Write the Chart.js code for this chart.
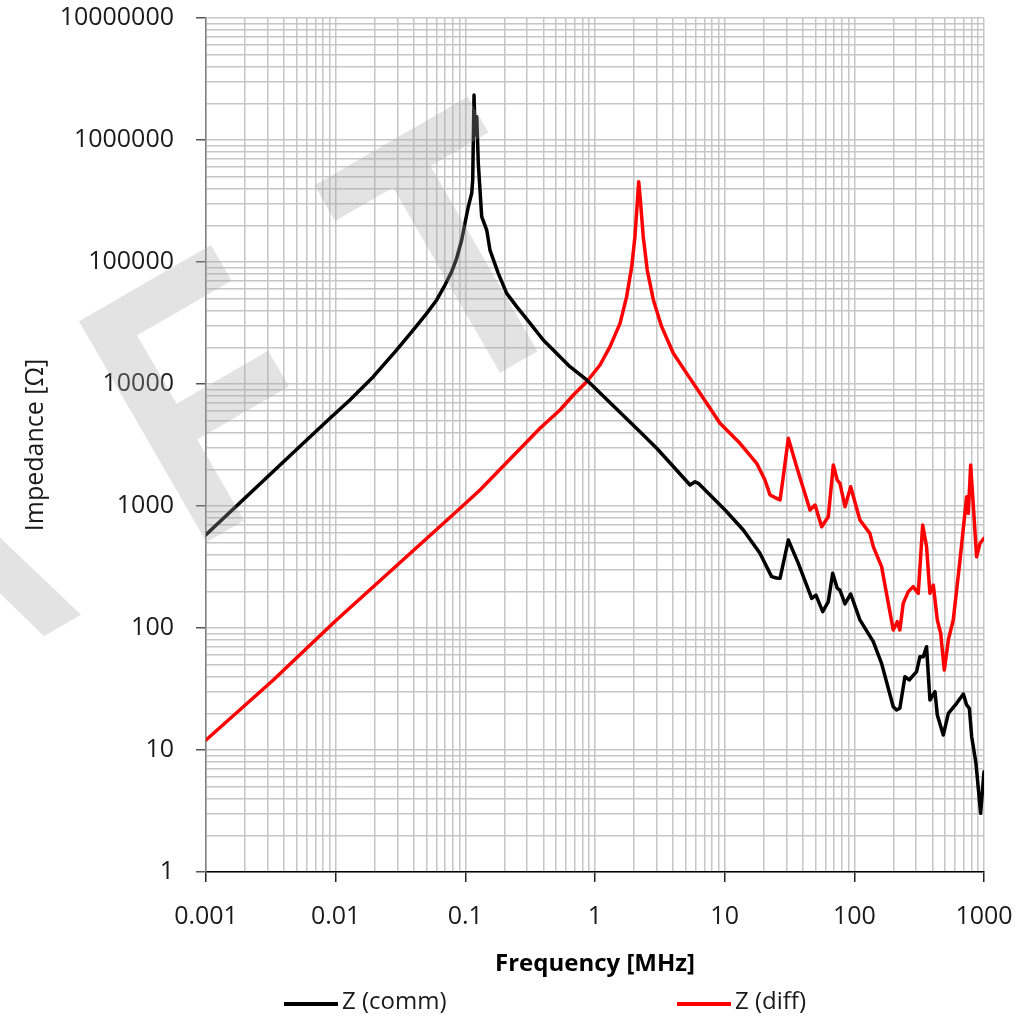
<!DOCTYPE html>
<html>
<head>
<meta charset="utf-8">
<script src="https://cdn.jsdelivr.net/npm/chart.js@4.4.1/dist/chart.umd.min.js"></script>
<style>
html,body{margin:0;padding:0;background:#fff;}
#wrap{width:1034px;height:1019px;}
</style>
</head>
<body>
<div id="wrap"><canvas id="c" width="1034" height="1019"></canvas></div>
<script>
// ---- data ----
const freqComm = [0.001, 0.00531, 0.009036, 0.01288, 0.01950, 0.02958, 0.03972, 0.05035, 0.06012, 0.06966,
  0.07852, 0.08570, 0.09376, 0.09931, 0.1054, 0.1119, 0.1140, 0.1167, 0.1189, 0.1225,
  0.1259, 0.1337, 0.1462, 0.1549, 0.1795, 0.2084, 0.2489, 0.3162, 0.3990, 0.6412,
  0.8630, 2.223, 2.992, 5.408, 5.902, 6.266, 10.07,
  13.93, 18.71, 23.01, 25.12, 26.73, 30.97, 36.98, 46.88, 50.58, 57.02,
  62.95, 68.08, 73.79, 77.45, 84.72, 93.76, 110.4, 140.0, 162.2, 199.5,
  211.8, 224.4, 245.5, 264.9, 302.0, 320.6, 340.4, 360.6, 382.8, 418.8,
  436.5, 485.3, 530.9, 615.2, 693.4, 734.5, 770.9, 803.5, 867.0, 941.9,
  1000];
const zComm = [582, 3090, 5236, 7396, 11480, 19010, 27730, 37930, 48870, 64710,
  83370, 107200, 151400, 207500, 283800, 365600, 469900, 2339000, 1100000, 1552000,
  644200, 235000, 182800, 125300, 80720, 55340, 43050, 31410, 22960, 13870,
  10790, 4064, 2972, 1486, 1581, 1535, 926.8,
  635.3, 409.3, 263.6, 257, 255.3, 526.0, 338.8, 175.0, 186.2, 136.1,
  164.1, 280.5, 211.3, 204.6, 157.4, 190.1, 116.4, 77.27, 51.29, 22.65,
  21.28, 21.98, 39.90, 37.50, 43.85, 58.21, 58.21, 70.15, 25.70, 30.06,
  19.36, 13.27, 20.00, 24.15, 28.77, 23.39, 21.98, 12.85, 7.78, 3.03,
  6.64];

const freqDiff = [0.001, 0.003304, 0.01, 0.1, 0.1297, 0.3767, 0.5370, 0.6808, 0.8630, 1.093,
  1.306, 1.560, 1.754, 1.919, 2.032, 2.118, 2.173, 2.249, 2.355, 2.529,
  2.818, 3.266, 4.018, 5.093, 6.457, 9.204, 13.12, 17.66, 20.46, 22.39,
  25.18, 26.73, 28.31, 30.97, 35.89, 45.50, 49.77, 55.98, 62.95, 68.87,
  73.79, 77.45, 84.72, 93.76, 110.4, 131.8, 140.0, 162.2, 199.5, 214.3,
  224.4, 238.2, 260.6, 284.4, 311.2, 336.5, 360.6, 382.8, 406.4, 436.5,
  463.4, 494.3, 530.9, 579.4, 653.1, 734.5, 756.8, 788.9, 827.9, 877.0,
  931.1, 1000];
const zDiff = [12.08, 37.50, 114.8, 1047, 1352, 4335, 6124, 8128, 10440, 14320,
  20230, 31410, 52000, 91620, 161100, 302700, 455000, 302700, 161100, 85900,
  48870, 29510, 17860, 12220, 8395, 4764, 3266, 2239, 1633, 1230,
  1156, 1119, 1738, 3589, 2099, 926.8, 1019, 676.1, 816.6, 2168,
  1633, 1535, 986.3, 1439, 767.4, 597.0, 464.5, 318.4, 96.38, 112.7,
  96.38, 159.2, 198.6, 218.3, 192.3, 698.2, 464.5, 192.3, 224.9, 116.4,
  90.36, 45.29, 79.80, 116.4, 360.6, 1191, 871.0, 2168, 986.3, 383.7,
  494.3, 543.3];

const seriesNames = ['Z (comm)', 'Z (diff)'];
const xTickLabels = ['0.001', '0.01', '0.1', '1', '10', '100', '1000'];
const yTickLabels = ['1', '10', '100', '1000', '10000', '100000', '1000000', '10000000'];
const xTitle = 'Frequency [MHz]';
const yTitle = 'Impedance [Ω]';
const watermarkText = 'DRAFT';

// ---- helpers ----
function gridTicks(labels) {
  const out = [];
  labels.forEach((lbl, i) => {
    const v = parseFloat(lbl);
    out.push({value: v, major: true, lbl: lbl});
    if (i < labels.length - 1) {
      for (let m = 2; m <= 9; m++) out.push({value: +(m * v).toPrecision(6), major: false, lbl: ''});
    }
  });
  return out;
}

const FONT = '"Open Sans", "DejaVu Sans", sans-serif';

const watermarkPlugin = {
  id: 'watermark',
  afterDraw(chart) {
    const c = chart.ctx;
    c.save();
    c.translate(75, 317);
    c.rotate(-Math.PI / 6);
    const sx = 0.81;
    c.scale(sx, 1);
    c.font = 'bold 371px "Liberation Sans", Arial, sans-serif';
    c.fillStyle = 'rgba(165,165,165,0.31)';
    c.textBaseline = 'alphabetic';
    const capTop = c.measureText('F').actualBoundingBoxAscent;
    const lefts = [-980, -663, -348, 0, 270];
    [...watermarkText].forEach((ch, i) => {
      const m = c.measureText(ch);
      c.fillText(ch, lefts[i] / sx + m.actualBoundingBoxLeft, capTop);
    });
    c.restore();
  }
};

const legendPlugin = {
  id: 'bottomLegend',
  afterDraw(chart) {
    const c = chart.ctx;
    const items = [{x0: 284, x1: 338, tx: 342}, {x0: 677, x1: 731, tx: 735}];
    c.save();
    c.font = '24px ' + FONT;
    c.textBaseline = 'middle';
    c.textAlign = 'left';
    chart.data.datasets.forEach((ds, i) => {
      const it = items[i];
      c.strokeStyle = ds.borderColor;
      c.lineWidth = 4;
      c.beginPath();
      c.moveTo(it.x0, 1004);
      c.lineTo(it.x1, 1004);
      c.stroke();
      c.fillStyle = '#1a1a1a';
      c.fillText(ds.label, it.tx, 1002);
    });
    c.restore();
  }
};

const tickCol = (col) => (ctx) => (ctx.tick && ctx.tick.major) ? col : 'rgba(0,0,0,0)';

new Chart(document.getElementById('c'), {
  type: 'line',
  data: {
    datasets: [
      {label: seriesNames[0], data: freqComm.map((f, i) => ({x: f, y: zComm[i]})),
       borderColor: '#000000', borderWidth: 3.5, pointRadius: 0, tension: 0, fill: false,
       borderJoinStyle: 'round', borderCapStyle: 'round'},
      {label: seriesNames[1], data: freqDiff.map((f, i) => ({x: f, y: zDiff[i]})),
       borderColor: '#ff0000', borderWidth: 3.5, pointRadius: 0, tension: 0, fill: false,
       borderJoinStyle: 'round', borderCapStyle: 'round'}
    ]
  },
  options: {
    responsive: false,
    animation: false,
    devicePixelRatio: 1,
    layout: {padding: {left: 0, right: 50, top: 18, bottom: 0}},
    plugins: {legend: {display: false}, tooltip: {enabled: false}},
    scales: {
      x: {
        type: 'logarithmic', min: 0.001, max: 1000, position: 'bottom',
        afterBuildTicks: (s) => { s.ticks = gridTicks(xTickLabels); },
        afterFit: (s) => { s.height = 147; s.paddingLeft = 0; s.paddingRight = 0; },
        ticks: {autoSkip: false, maxRotation: 0, minRotation: 0, padding: 20, color: '#1a1a1a',
                font: {family: FONT, size: 25}, callback: (v, i, t) => t[i].lbl},
        grid: {color: '#c6c6c6', lineWidth: 1.5, tickLength: 10, tickWidth: 1.5, tickColor: tickCol('#222')},
        border: {color: '#000000', width: 1.5},
        title: {display: true, text: xTitle, color: '#000000',
                font: {family: FONT, size: 24, weight: 'bold'}, padding: {top: 0, bottom: 40}}
      },
      y: {
        type: 'logarithmic', min: 1, max: 10000000, position: 'left',
        afterBuildTicks: (s) => { s.ticks = gridTicks(yTickLabels); },
        afterFit: (s) => { s.width = 206; s.paddingTop = 0; s.paddingBottom = 0; },
        ticks: {autoSkip: false, padding: 22, color: '#1a1a1a',
                font: {family: FONT, size: 25}, callback: (v, i, t) => t[i].lbl},
        grid: {color: '#c6c6c6', lineWidth: 1.5, tickLength: 10, tickWidth: 1.5, tickColor: tickCol('#555')},
        border: {color: '#808080', width: 1.5},
        title: {display: true, text: yTitle, color: '#1a1a1a',
                font: {family: FONT, size: 25}, padding: {top: 21, bottom: 0}}
      }
    }
  },
  plugins: [legendPlugin, watermarkPlugin]
});
</script>
</body>
</html>
